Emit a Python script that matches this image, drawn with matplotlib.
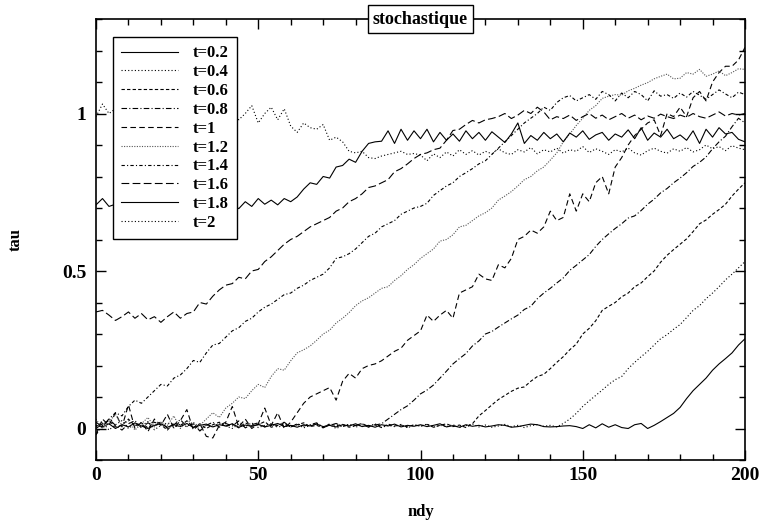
import matplotlib
matplotlib.use("Agg")
import matplotlib.pyplot as plt
from matplotlib.ticker import MultipleLocator
import numpy as np

# ndy sample positions (every 2 units)
ndy = np.arange(0, 201, 2)

t02 = [0.010, 0.005, 0.015, 0.000, 0.012, 0.005, 0.018, 0.008, 0.000, 0.010,
       0.015, 0.004, 0.012, 0.006, 0.016, 0.003, 0.010, 0.014, 0.005, 0.012,
       0.008, 0.015, 0.004, 0.011, 0.007, 0.013, 0.005, 0.010, 0.016, 0.006,
       0.010, 0.004, 0.012, 0.008, 0.014, 0.006, 0.010, 0.005, 0.012, 0.008,
       0.015, 0.006, 0.010, 0.004, 0.012, 0.008, 0.014, 0.005, 0.010, 0.007,
       0.012, 0.006, 0.010, 0.015, 0.005, 0.009, 0.004, 0.012, 0.007, 0.010,
       0.005, 0.008, 0.012, 0.010, 0.004, 0.006, 0.010, 0.014, 0.012, 0.006,
       0.005, 0.006, 0.008, 0.009, 0.006, 0.000, 0.012, 0.002, 0.015, 0.004,
       0.012, 0.003, 0.000, 0.012, 0.016, 0.000, 0.010, 0.022, 0.035, 0.048,
       0.067, 0.095, 0.120, 0.140, 0.160, 0.185, 0.205, 0.222, 0.240, 0.265,
       0.285]

t04 = [0.005, 0.020, -0.005, 0.012, 0.025, 0.000, 0.015, 0.008, 0.022, -0.004,
       0.010, 0.018, 0.002, 0.014, 0.006, 0.020, -0.006, 0.012, 0.004, 0.016,
       0.008, 0.000, 0.014, 0.006, 0.018, 0.003, 0.010, 0.015, 0.004, 0.011,
       0.006, 0.014, 0.002, 0.010, 0.016, 0.005, 0.012, 0.000, 0.009, 0.013,
       0.004, 0.012, 0.007, 0.015, 0.003, 0.010, 0.006, 0.013, 0.002, 0.011,
       0.008, 0.014, 0.004, 0.010, 0.006, 0.012, 0.003, 0.009, 0.014, 0.005,
       0.011, 0.004, 0.008, 0.013, 0.006, 0.010, 0.003, 0.009, 0.012, 0.007,
       0.010, 0.005, 0.016, 0.030, 0.048, 0.070, 0.088, 0.105, 0.122, 0.140,
       0.155, 0.165, 0.190, 0.210, 0.228, 0.245, 0.265, 0.285, 0.298, 0.315,
       0.330, 0.352, 0.375, 0.390, 0.412, 0.430, 0.450, 0.472, 0.490, 0.510,
       0.530]

t06 = [0.000, 0.015, 0.025, 0.005, 0.010, 0.030, 0.008, 0.018, 0.002, 0.020,
       0.012, -0.005, 0.018, 0.010, 0.024, 0.004, 0.015, 0.000, 0.012, 0.020,
       0.006, 0.014, 0.002, 0.018, 0.008, 0.012, 0.022, 0.004, 0.010, 0.016,
       0.005, 0.012, 0.018, 0.006, 0.010, 0.002, 0.015, 0.009, 0.013, 0.004,
       0.010, 0.016, 0.006, 0.012, 0.003, 0.014, 0.008, 0.011, 0.005, 0.012,
       0.007, 0.013, 0.004, 0.010, 0.015, 0.006, 0.011, 0.003, 0.015, 0.040,
       0.057, 0.075, 0.092, 0.105, 0.118, 0.128, 0.132, 0.150, 0.165, 0.172,
       0.190, 0.210, 0.228, 0.250, 0.268, 0.300, 0.318, 0.342, 0.375, 0.388,
       0.400, 0.418, 0.430, 0.450, 0.462, 0.482, 0.500, 0.528, 0.550, 0.568,
       0.585, 0.602, 0.625, 0.650, 0.662, 0.680, 0.695, 0.712, 0.738, 0.760,
       0.780]

t08 = [0.020, 0.005, 0.030, 0.010, -0.005, 0.015, 0.025, 0.002, 0.018, 0.008,
       0.022, 0.000, 0.012, 0.028, 0.006, 0.015, -0.008, 0.010, 0.020, 0.004,
       0.016, 0.008, 0.024, 0.002, 0.012, 0.018, 0.005, 0.014, 0.010, 0.020,
       0.004, 0.015, 0.008, 0.012, 0.018, 0.003, 0.010, 0.016, 0.006, 0.012,
       0.009, 0.014, 0.004, 0.011, 0.015, 0.030, 0.045, 0.060, 0.072, 0.090,
       0.110, 0.122, 0.138, 0.160, 0.182, 0.205, 0.222, 0.238, 0.262, 0.278,
       0.300, 0.308, 0.322, 0.335, 0.348, 0.360, 0.378, 0.388, 0.412, 0.430,
       0.445, 0.462, 0.478, 0.502, 0.518, 0.535, 0.552, 0.578, 0.600, 0.618,
       0.635, 0.650, 0.668, 0.675, 0.692, 0.712, 0.728, 0.748, 0.762, 0.780,
       0.795, 0.812, 0.832, 0.845, 0.862, 0.888, 0.910, 0.928, 0.958, 0.985,
       0.970]

t10 = [-0.020, 0.030, 0.010, 0.050, 0.005, 0.075, 0.000, 0.020, -0.010, 0.030,
       0.010, 0.045, 0.000, 0.025, 0.060, -0.005, 0.015, -0.025, -0.030, 0.010,
       0.020, 0.070, 0.005, 0.030, 0.000, 0.015, 0.065, 0.010, 0.050, 0.000,
       0.020, 0.050, 0.080, 0.100, 0.110, 0.120, 0.130, 0.090, 0.150, 0.175,
       0.160, 0.190, 0.200, 0.205, 0.215, 0.230, 0.245, 0.255, 0.280, 0.295,
       0.310, 0.360, 0.340, 0.360, 0.375, 0.350, 0.430, 0.440, 0.450, 0.490,
       0.475, 0.470, 0.520, 0.510, 0.540, 0.600, 0.610, 0.630, 0.620, 0.640,
       0.690, 0.660, 0.670, 0.745, 0.690, 0.745, 0.720, 0.780, 0.800, 0.745,
       0.830, 0.860, 0.900, 0.930, 0.950, 0.970, 0.980, 0.930, 1.000, 0.990,
       1.020, 0.990, 1.050, 1.070, 1.040, 1.100, 1.130, 1.150, 1.150, 1.170,
       1.210]

t12 = [0.030, 0.000, 0.020, 0.045, 0.010, 0.025, -0.005, 0.015, 0.035, 0.005,
       0.020, 0.010, 0.040, 0.000, 0.025, 0.015, 0.010, 0.030, 0.050, 0.035,
       0.065, 0.080, 0.100, 0.095, 0.120, 0.140, 0.130, 0.165, 0.190, 0.185,
       0.215, 0.240, 0.250, 0.262, 0.280, 0.300, 0.312, 0.335, 0.350, 0.368,
       0.390, 0.405, 0.415, 0.430, 0.445, 0.450, 0.470, 0.485, 0.505, 0.520,
       0.540, 0.555, 0.570, 0.595, 0.600, 0.615, 0.640, 0.645, 0.660, 0.675,
       0.685, 0.700, 0.725, 0.738, 0.752, 0.770, 0.790, 0.800, 0.818, 0.830,
       0.852, 0.875, 0.910, 0.935, 0.962, 0.985, 1.010, 1.025, 1.048, 1.055,
       1.060, 1.058, 1.072, 1.080, 1.090, 1.098, 1.110, 1.118, 1.125, 1.110,
       1.112, 1.130, 1.125, 1.140, 1.118, 1.125, 1.135, 1.120, 1.130, 1.142,
       1.140]

t14 = [-0.020, 0.010, 0.030, 0.050, 0.040, 0.070, 0.090, 0.080, 0.100, 0.120,
       0.140, 0.135, 0.160, 0.170, 0.190, 0.216, 0.210, 0.240, 0.265, 0.270,
       0.290, 0.310, 0.320, 0.340, 0.350, 0.370, 0.385, 0.395, 0.410, 0.425,
       0.430, 0.445, 0.455, 0.470, 0.480, 0.490, 0.510, 0.540, 0.545, 0.555,
       0.570, 0.590, 0.610, 0.620, 0.640, 0.650, 0.660, 0.680, 0.690, 0.700,
       0.705, 0.715, 0.740, 0.755, 0.770, 0.780, 0.800, 0.812, 0.825, 0.840,
       0.850, 0.870, 0.890, 0.910, 0.930, 0.950, 0.970, 0.985, 1.000, 1.020,
       1.010, 1.035, 1.050, 1.057, 1.040, 1.050, 1.060, 1.045, 1.070, 1.060,
       1.040, 1.065, 1.050, 1.070, 1.060, 1.040, 1.072, 1.055, 1.060, 1.048,
       1.065, 1.052, 1.070, 1.058, 1.045, 1.060, 1.075, 1.062, 1.050, 1.068,
       1.060]

t16 = [0.370, 0.375, 0.360, 0.343, 0.355, 0.370, 0.350, 0.365, 0.345, 0.355,
       0.337, 0.355, 0.370, 0.350, 0.365, 0.370, 0.400, 0.395, 0.420, 0.440,
       0.455, 0.460, 0.480, 0.475, 0.500, 0.505, 0.530, 0.545, 0.565, 0.585,
       0.600, 0.610, 0.625, 0.640, 0.650, 0.660, 0.670, 0.690, 0.700, 0.720,
       0.730, 0.745, 0.765, 0.770, 0.780, 0.790, 0.815, 0.825, 0.840, 0.857,
       0.870, 0.875, 0.885, 0.890, 0.915, 0.946, 0.950, 0.965, 0.978, 0.970,
       0.980, 0.984, 0.990, 1.000, 0.984, 0.995, 1.010, 1.000, 1.020, 1.005,
       0.980, 0.990, 0.984, 0.995, 0.978, 0.990, 1.000, 0.985, 0.995, 0.980,
       0.990, 1.000, 0.985, 0.995, 0.980, 0.992, 0.985, 0.998, 0.990, 0.984,
       0.995, 0.988, 1.000, 0.990, 0.985, 0.995, 1.005, 0.992, 1.000, 0.995,
       1.000]

t18 = [0.710, 0.730, 0.705, 0.712, 0.700, 0.715, 0.705, 0.718, 0.700, 0.710,
       0.705, 0.716, 0.702, 0.712, 0.698, 0.710, 0.705, 0.715, 0.700, 0.712,
       0.700, 0.710, 0.698, 0.720, 0.705, 0.730, 0.712, 0.725, 0.710, 0.730,
       0.720, 0.735, 0.760, 0.780, 0.775, 0.800, 0.795, 0.830, 0.835, 0.855,
       0.845, 0.880, 0.905, 0.910, 0.912, 0.945, 0.905, 0.950, 0.915, 0.945,
       0.920, 0.950, 0.910, 0.940, 0.915, 0.935, 0.912, 0.945, 0.920, 0.940,
       0.915, 0.942, 0.925, 0.908, 0.935, 0.970, 0.905, 0.930, 0.915, 0.940,
       0.920, 0.935, 0.910, 0.938, 0.925, 0.945, 0.918, 0.932, 0.940, 0.915,
       0.935, 0.925, 0.948, 0.920, 0.955, 0.915, 0.938, 0.925, 0.950, 0.920,
       0.932, 0.915, 0.945, 0.905, 0.950, 0.925, 0.955, 0.935, 0.940, 0.918,
       0.910]

t20 = [0.990, 1.030, 1.000, 1.015, 0.995, 1.020, 1.005, 0.990, 1.012, 0.998,
       1.010, 0.995, 1.020, 1.000, 0.990, 1.015, 1.005, 1.025, 0.995, 1.010,
       0.995, 1.015, 0.980, 1.000, 1.025, 0.970, 1.000, 1.020, 0.980, 1.015,
       0.960, 0.940, 0.970, 0.955, 0.950, 0.965, 0.915, 0.925, 0.910, 0.880,
       0.875, 0.880, 0.860, 0.857, 0.865, 0.870, 0.875, 0.880, 0.870, 0.873,
       0.868, 0.850, 0.872, 0.860, 0.878, 0.865, 0.885, 0.870, 0.882, 0.868,
       0.880, 0.872, 0.888, 0.875, 0.870, 0.885, 0.878, 0.892, 0.872, 0.885,
       0.878, 0.890, 0.874, 0.885, 0.880, 0.895, 0.876, 0.888, 0.880, 0.870,
       0.885, 0.878, 0.890, 0.875, 0.868, 0.882, 0.890, 0.880, 0.874, 0.888,
       0.880, 0.892, 0.878, 0.885, 0.900, 0.888, 0.895, 0.882, 0.898, 0.890,
       0.885]

labels = ["t=0.2", "t=0.4", "t=0.6", "t=0.8", "t=1",
          "t=1.2", "t=1.4", "t=1.6", "t=1.8", "t=2"]
series = [t02, t04, t06, t08, t10, t12, t14, t16, t18, t20]
styles = ["-", (0, (1, 2)), (0, (3, 2)), (0, (5, 2, 1, 2)), (0, (5, 3)),
          (0, (1, 1.3)), (0, (3, 2, 1, 2)), (0, (7, 3)), "-", (0, (1, 2))]
colors = ["black", "black", "black", "black", "black",
          "#555555", "black", "black", "black", "black"]

plt.rcParams["font.family"] = ["Liberation Serif", "DejaVu Serif"]
plt.rcParams["font.weight"] = "bold"

fig = plt.figure(figsize=(7.6, 5.29), dpi=100)
ax = fig.add_axes([96 / 760, 69 / 529, 649 / 760, 441 / 529])

for y, lab, ls, c in zip(series, labels, styles, colors):
    ax.plot(ndy, y, linestyle=ls, color=c, lw=0.8, label=lab)

ax.set_xlim(0, 200)
ax.set_ylim(-0.1, 1.3)
ax.xaxis.set_major_locator(MultipleLocator(50))
ax.xaxis.set_minor_locator(MultipleLocator(10))
ax.yaxis.set_major_locator(MultipleLocator(0.5))
ax.yaxis.set_minor_locator(MultipleLocator(0.1))
ax.tick_params(which="both", direction="in", top=True, right=True,
               labelsize=14, width=1)
ax.tick_params(which="major", length=7, pad=7)
ax.tick_params(which="minor", length=4)
ax.tick_params(axis="x", which="major", pad=5)
ax.set_yticks([0, 0.5, 1])
ax.set_yticklabels(["0", "0.5", "1"])
for sp in ax.spines.values():
    sp.set_linewidth(1.2)

ax.set_xlabel("ndy", fontsize=12, fontweight="bold")
ax.set_ylabel("tau", fontsize=12, fontweight="bold")
ax.xaxis.set_label_coords(0.5, -0.100)
ax.yaxis.set_label_coords(-0.112, 0.5)

ax.text(0.5, 1.0, "stochastique", transform=ax.transAxes, ha="center",
        va="center", fontsize=13, fontweight="bold",
        bbox=dict(boxstyle="square,pad=0.3", fc="white", ec="black", lw=1))

leg = ax.legend(loc="upper left", bbox_to_anchor=(0.026, 0.959),
                borderaxespad=0, fancybox=False, edgecolor="black",
                framealpha=1, handlelength=3.4,
                handletextpad=0.9, labelspacing=0.17, borderpad=0.5,
                prop={"weight": "bold", "size": 12})
leg.get_frame().set_linewidth(1.0)

fig.savefig("out.png", dpi=100)
